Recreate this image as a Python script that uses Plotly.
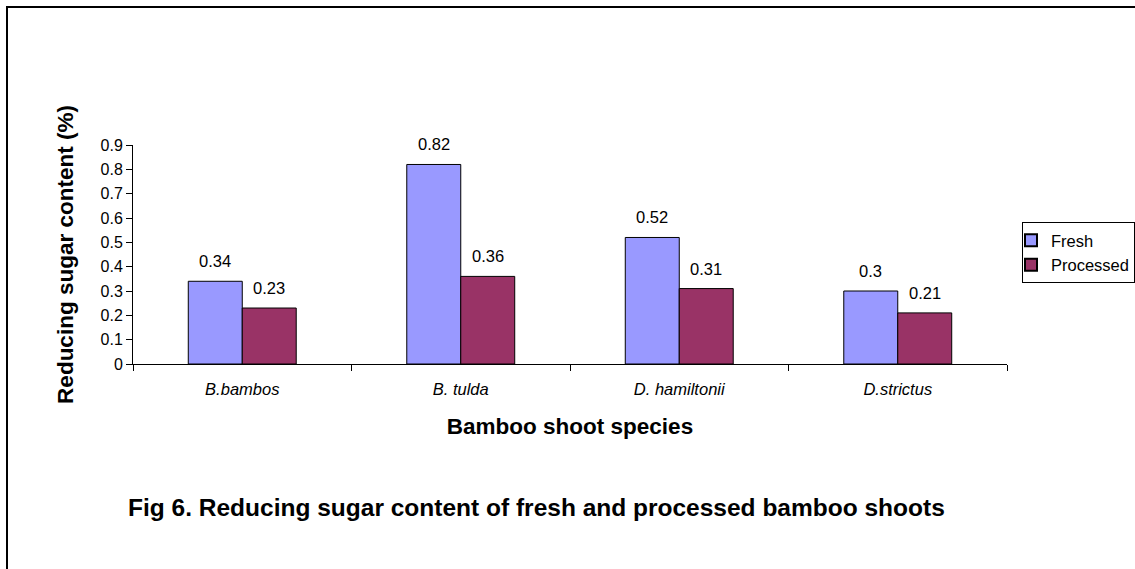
import plotly.graph_objects as go

species = ["B.bambos", "B. tulda", "D. hamiltonii", "D.strictus"]
fresh = [0.34, 0.82, 0.52, 0.30]
processed = [0.23, 0.36, 0.31, 0.21]
fresh_labels = ["0.34", "0.82", "0.52", "0.3"]
processed_labels = ["0.23", "0.36", "0.31", "0.21"]

FONT = "Liberation Sans, Arial, sans-serif"

fig = go.Figure()
fig.add_trace(go.Bar(name="Fresh", x=species, y=fresh,
                     marker=dict(color="#9999FF", line=dict(color="black", width=1))))
fig.add_trace(go.Bar(name="Processed", x=species, y=processed,
                     marker=dict(color="#993366", line=dict(color="black", width=1))))

# value labels above each bar
annotations = []
for cat, v, t in zip(species, fresh, fresh_labels):
    annotations.append(dict(x=cat, y=v, text=t, showarrow=False, xshift=-27, yshift=20,
                            font=dict(family=FONT, size=16.5, color="black")))
for cat, v, t in zip(species, processed, processed_labels):
    annotations.append(dict(x=cat, y=v, text=t, showarrow=False, xshift=27, yshift=20,
                            font=dict(family=FONT, size=16.5, color="black")))

# caption below the chart
annotations.append(dict(xref="paper", yref="paper", x=(947 - 133) / 874, y=(364 - 507) / 219,
                        text="<b>Fig 6. Reducing sugar content of fresh and processed bamboo shoots</b>",
                        showarrow=False, xanchor="right", yanchor="middle",
                        font=dict(family=FONT, size=24.5, color="black")))

fig.update_layout(
    width=1135, height=569,
    margin=dict(l=133, r=128, t=145, b=205, autoexpand=False),
    paper_bgcolor="white", plot_bgcolor="white",
    barmode="group", bargap=0.506, bargroupgap=0,
    font=dict(family=FONT, size=16, color="black"),
    showlegend=True,
    legend=dict(x=(1022 - 133) / 874, y=(364 - 222) / 219, xanchor="left", yanchor="top",
                bordercolor="black", borderwidth=1, bgcolor="white",
                font=dict(family=FONT, size=16.5, color="black"),
                indentation=-12, itemsizing="constant"),
    annotations=annotations,
    shapes=[dict(type="rect", xref="paper", yref="paper",
                 x0=(7 - 133) / 874, x1=2.0, y0=-3.0, y1=(364 - 7) / 219,
                 line=dict(color="black", width=2), fillcolor="rgba(0,0,0,0)", layer="below")],
)

fig.update_xaxes(
    showline=True, linecolor="black", linewidth=1,
    ticks="outside", ticklen=6, tickcolor="black", tickson="boundaries",
    ticklabelstandoff=10,
    tickfont=dict(family=FONT, size=16.5, style="italic"),
    showgrid=False, zeroline=False,
    title=dict(text="<b>Bamboo shoot species</b>", font=dict(family=FONT, size=22.5), standoff=21),
)
fig.update_yaxes(
    range=[0, 0.9], dtick=0.1, tick0=0,
    showline=True, linecolor="black", linewidth=1,
    ticks="outside", ticklen=6, tickcolor="black",
    showgrid=False, zeroline=False,
    tickfont=dict(family=FONT, size=16),
    title=dict(text="<b>Reducing sugar content (%)</b>", font=dict(family=FONT, size=22.5), standoff=20),
)

fig.write_html("out.html")
